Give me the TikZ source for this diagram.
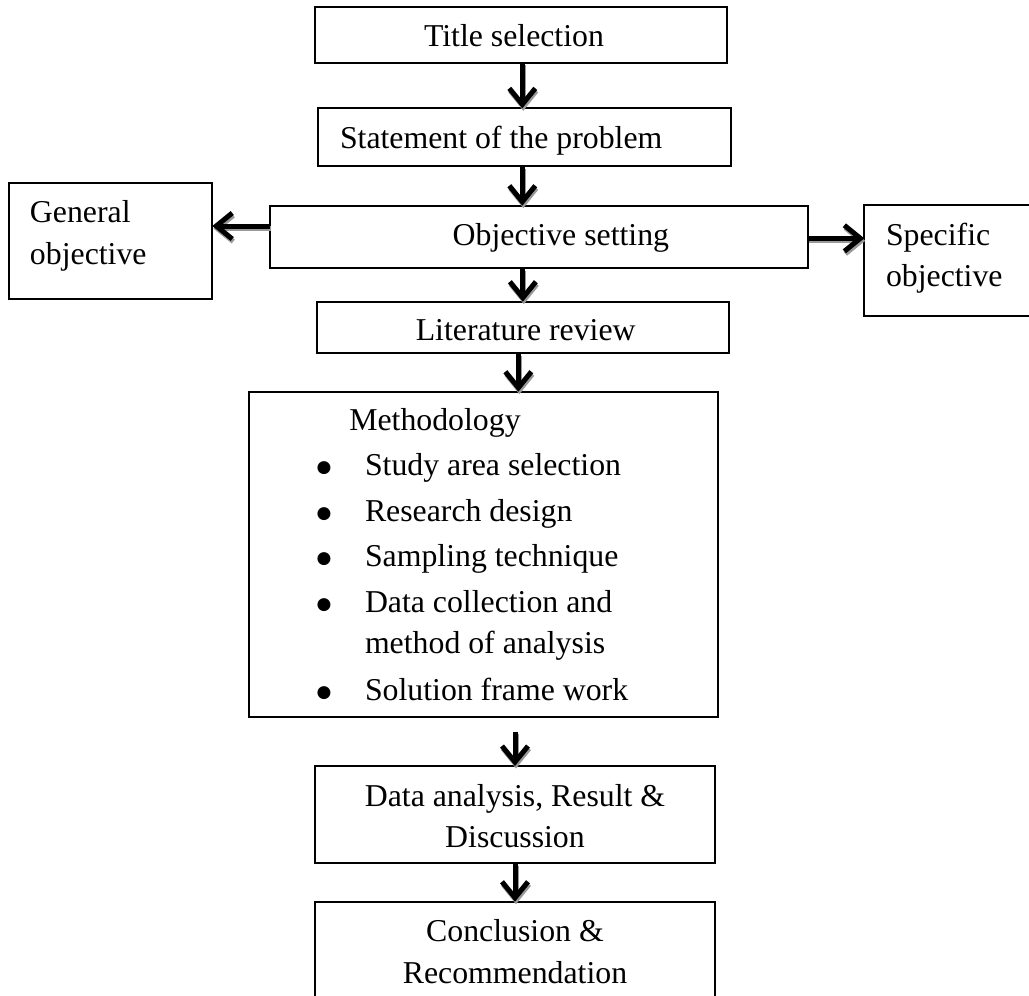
\documentclass[tikz,border=0pt]{standalone}
\usepackage{fontspec}
\setmainfont{Liberation Serif}
\newfontfamily\bulfont{DejaVu Sans}
\usetikzlibrary{arrows.meta}
\newcommand\mbul{\makebox[0pt]{\raisebox{3pt}{\bulfont\fontsize{17}{17}\selectfont ●}}\hspace*{41pt}}
\newcommand\flowarrow[2]{%
  \draw[flowshadow, transform canvas={xshift=1pt,yshift=-2.5pt}] #1 -- #2;
  \draw[flow] #1 -- #2;}
\begin{document}
\begin{tikzpicture}[x=1pt,y=-1pt,
  font=\fontsize{31.8}{41.5}\selectfont,
  box/.style={draw, line width=1.8pt, inner sep=0pt, outer sep=0pt},
  txt/.style={inner sep=0pt, outer sep=0pt},
  flow/.style={line width=5pt, -{Straight Barb[length=16pt,width=26pt]}},
  flowshadow/.style={flow, draw=black!40}
]
\useasboundingbox (0,0) rectangle (1029,996);
\clip (0,0) rectangle (1029,996);
% boxes
\node[box, minimum width=412pt,   minimum height=55.4pt]  (title) at (521,35) {};
\node[box, minimum width=412.4pt, minimum height=57.7pt]  (stmt)  at (524.5,137.15) {};
\node[box, minimum width=538.3pt, minimum height=62.6pt]  (obj)   at (539.15,237) {};
\node[box, minimum width=203.3pt, minimum height=116pt]   (gen)   at (110.65,241.3) {};
\node[box, minimum width=205.7pt, minimum height=110.7pt] (spec)  at (967.15,260.35) {};
\node[box, minimum width=412.3pt, minimum height=51.6pt]  (lit)   at (522.85,327.5) {};
\node[box, minimum width=469pt,   minimum height=325pt]   (meth)  at (483.5,554.2) {};
\node[box, minimum width=400pt,   minimum height=97pt]    (data)  at (515,814.5) {};
\node[box, minimum width=400pt,   minimum height=108.3pt] (concl) at (515,955.85) {};
% texts
\node[txt, anchor=base] (titletxt) at (514,46.7) {Title selection};
\node[txt, anchor=base west] (stmttxt) at (340,148.3) {Statement of the problem};
\node[txt, anchor=base west] (objtxt) at (452.7,245) {Objective setting};
\node[txt, anchor=base west] (gentxt) at (30,222.7)
  {\begin{tabular}[t]{@{}l@{}}General\\objective\end{tabular}};
\node[txt, anchor=base west] (spectxt) at (886,245)
  {\begin{tabular}[t]{@{}l@{}}Specific\\objective\end{tabular}};
\node[txt, anchor=base] (littxt) at (525.7,340) {Literature review};
\node[txt, anchor=base west] (methtxt) at (324,430)
  {\begin{tabular}[t]{@{}l@{}}
   \hspace*{25.3pt}Methodology\\[4pt]
   \mbul Study area selection\\[4pt]
   \mbul Research design\\[4pt]
   \mbul Sampling technique\\[4pt]
   \mbul Data collection and\\
   \hspace*{41pt}method of analysis\\[5pt]
   \mbul Solution frame work
   \end{tabular}};
\node[txt, anchor=base] (datatxt) at (515,806)
  {\begin{tabular}[t]{@{}c@{}}Data analysis, Result \&\\Discussion\end{tabular}};
\node[txt, anchor=base] (concltxt) at (515,941.7)
  {\begin{tabular}[t]{@{}c@{}}Conclusion \&\\Recommendation\end{tabular}};
% connectors
\flowarrow{([xshift=1.3pt]title.south)}{([xshift=1.3pt]title.south |- stmt.north)}
\flowarrow{([xshift=-2.2pt]stmt.south)}{([xshift=-2.2pt]stmt.south |- obj.north)}
\flowarrow{(lit.north |- obj.south)}{(lit.north)}
\flowarrow{([xshift=-4.5pt]lit.south)}{([xshift=-4.5pt]lit.south |- meth.north)}
\flowarrow{([yshift=-15pt]data.north |- meth.south)}{(data.north)}
\flowarrow{(data.south)}{(concl.north)}
\flowarrow{([yshift=11pt]obj.west)}{([yshift=11pt]obj.west -| gen.east)}
\flowarrow{([yshift=-1.3pt]obj.east)}{([yshift=-1.3pt]obj.east -| spec.west)}
\end{tikzpicture}
\end{document}
